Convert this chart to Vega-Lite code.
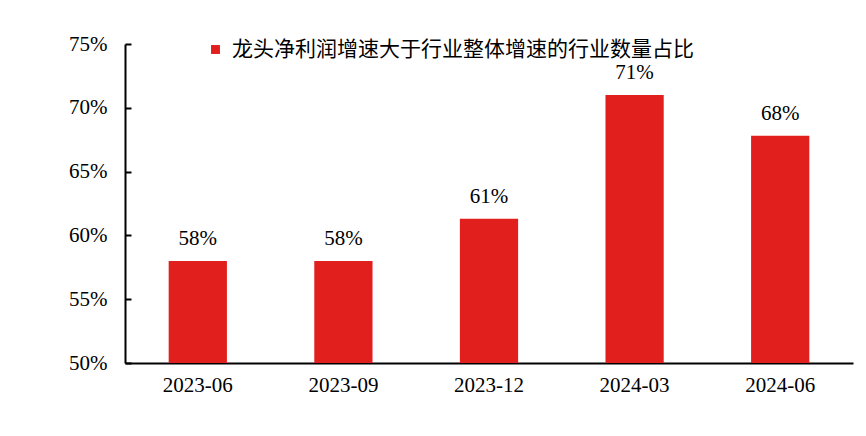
{
  "$schema": "https://vega.github.io/schema/vega-lite/v6.json",
  "width": 728,
  "height": 319,
  "autosize": {"type": "none"},
  "padding": {"left": 125, "top": 44, "right": 13, "bottom": 73},
  "background": "white",
  "data": {"values": [
    {"period": "2023-06", "value": 0.580, "series": "龙头净利润增速大于行业整体增速的行业数量占比"},
    {"period": "2023-09", "value": 0.580, "series": "龙头净利润增速大于行业整体增速的行业数量占比"},
    {"period": "2023-12", "value": 0.613, "series": "龙头净利润增速大于行业整体增速的行业数量占比"},
    {"period": "2024-03", "value": 0.710, "series": "龙头净利润增速大于行业整体增速的行业数量占比"},
    {"period": "2024-06", "value": 0.678, "series": "龙头净利润增速大于行业整体增速的行业数量占比"}
  ]},
  "encoding": {
    "x": {"field": "period", "type": "ordinal", "sort": null,
      "scale": {"paddingInner": 0.6, "paddingOuter": 0.3},
      "axis": {"title": null, "labelAngle": 0, "ticks": false, "domainColor": "#000", "domainWidth": 2,
        "labelFont": "Liberation Serif", "labelFontSize": 21, "labelColor": "#000", "labelPadding": 11}},
    "y": {"field": "value", "type": "quantitative",
      "scale": {"domain": [0.5, 0.75], "nice": false, "zero": false},
      "axis": {"title": null, "format": ".0%", "values": [0.5, 0.55, 0.6, 0.65, 0.7, 0.75], "grid": false,
        "domainColor": "#000", "domainWidth": 2, "tickColor": "#000", "tickWidth": 2, "tickSize": -6,
        "labelFont": "Liberation Serif", "labelFontSize": 21, "labelColor": "#000", "labelPadding": 24}}
  },
  "layer": [
    {"mark": {"type": "bar", "clip": true},
     "encoding": {
       "y2": {"datum": 0.5},
       "color": {"field": "series", "type": "nominal", "scale": {"range": ["#E1201E"]},
         "legend": {"title": null, "orient": "none", "legendX": 80, "legendY": -5, "symbolType": "square",
           "symbolSize": 80, "symbolStrokeWidth": 0, "labelFont": "Noto Sans CJK SC", "labelFontSize": 21,
           "labelColor": "#000", "labelLimit": 700, "labelOffset": 6}}
     }},
    {"mark": {"type": "text", "dy": -22, "font": "Liberation Serif", "fontSize": 21, "color": "#000"},
     "encoding": {"text": {"field": "value", "type": "quantitative", "format": ".0%"}}}
  ],
  "config": {"view": {"stroke": null}}
}
